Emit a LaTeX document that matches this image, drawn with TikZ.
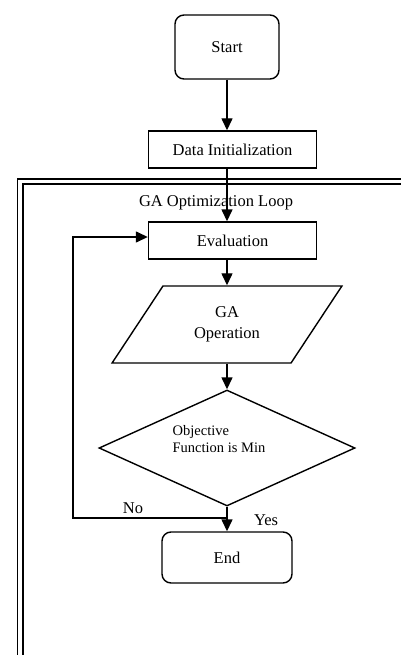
\documentclass[tikz,border=0pt]{standalone}
\usepackage{fontspec}
\setmainfont{Liberation Serif}
\usetikzlibrary{arrows.meta,shapes.geometric}

\begin{document}
\begin{tikzpicture}[x=1pt,y=-1pt,line width=1.4pt,
    every node/.style={font=\fontsize{16.5}{21}\selectfont},
    term/.style={draw,rounded corners=9pt},
    procbox/.style={draw,minimum width=168pt,minimum height=37pt},
    arr/.style={-{Triangle[length=12pt,width=11pt]}}]
    \path[use as bounding box,clip] (0,0) rectangle (401,655);

    % Loop frame
    \draw[double,double distance=3.6pt,line width=1.8pt] (420,181.5) -- (20.25,181.5) -- (20.25,680);
    \node (looptitle) at (216,203) {GA Optimization Loop};

    % Blocks
    \node[term,minimum width=104pt,minimum height=64pt] (start) at (227,47) {Start};
    \node[procbox] (init) at (232.5,149.5) {Data Initialization};
    \node[procbox] (eval) at (232.5,240.5) {Evaluation};
    \node[draw,trapezium,trapezium left angle=53.5,trapezium right angle=126.5,
        trapezium stretches=true,minimum width=230pt,minimum height=77pt,
        align=center,inner sep=0pt] (op) at (227,324.5) {GA\\Operation};
    \node[draw,diamond,minimum width=256pt,minimum height=116pt,inner sep=0pt] (dec) at (227,448) {};
    \node[align=left,font=\fontsize{14.5}{17}\selectfont] (dectext) at (219,439) {Objective\\Function is Min};
    \node[term,minimum width=130pt,minimum height=51pt] (end) at (227,557.5) {End};

    % Arrows
    \draw[arr] (start.south) -- (start.south |- init.north);
    \draw[arr] (start.south |- init.south) -- (start.south |- eval.north);
    \draw[arr] (start.south |- eval.south) -- (op.center |- op.north);
    \draw[arr] (op.center |- op.south) -- (dec.north);
    \draw[arr] (dec.south) -- (end.north);
    \coordinate (nosplit) at (227,518);
    \draw[arr] (nosplit) -- ++(-154,0) |- ([yshift=3.5pt]eval.west);

    % Labels
    \node (nolabel) at (133,508) {No};
    \node (yeslabel) at (266,520) {Yes};
\end{tikzpicture}
\end{document}
